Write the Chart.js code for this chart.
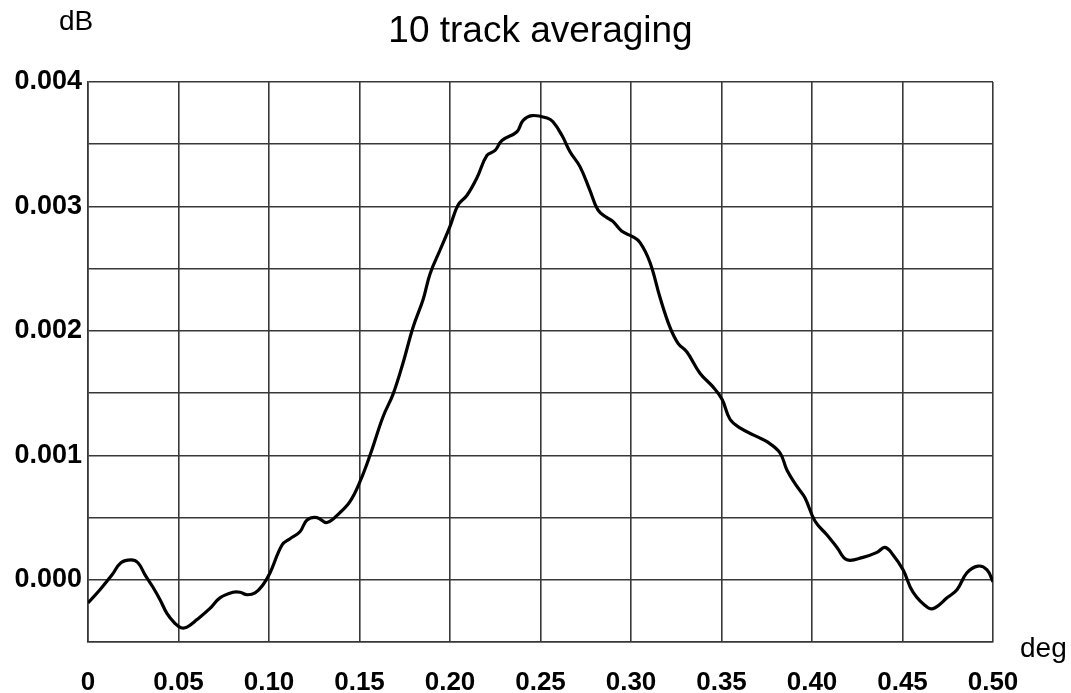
<!DOCTYPE html>
<html>
<head>
<meta charset="utf-8">
<style>
  html, body { margin: 0; padding: 0; background: #fff; }
  #wrap { width: 1071px; height: 693px; }
</style>
<script src="https://cdn.jsdelivr.net/npm/chart.js@4/dist/chart.umd.min.js"></script>
</head>
<body>
<div id="wrap"><canvas id="c" width="1071" height="693"></canvas></div>
<script>
// Averaged response over 10 tracks, in dB, versus angle in degrees
const angleDeg = [
  0, 0.0066, 0.0133, 0.0182, 0.0238, 0.0276, 0.0315, 0.0359, 0.0398, 0.0436,
  0.048, 0.0514, 0.0547, 0.0602, 0.0674, 0.0729, 0.0801, 0.084, 0.0878, 0.0923,
  0.0967, 0.1006, 0.1072, 0.1116, 0.1171, 0.121, 0.1265, 0.132, 0.1392, 0.1448,
  0.1503, 0.1558, 0.163, 0.1685, 0.174, 0.1796, 0.1851, 0.189, 0.1945, 0.2,
  0.2044, 0.2094, 0.2149, 0.2204, 0.2249, 0.2287, 0.237, 0.2403, 0.2453, 0.2536,
  0.2569, 0.2619, 0.2663, 0.2718, 0.2773, 0.2818, 0.2867, 0.29, 0.295, 0.3006,
  0.305, 0.3105, 0.316, 0.3215, 0.326, 0.3309, 0.3381, 0.3453, 0.3503, 0.3547,
  0.3602, 0.3696, 0.3751, 0.3823, 0.3862, 0.3917, 0.3961, 0.4017, 0.4083, 0.4138,
  0.4193, 0.4282, 0.4359, 0.4403, 0.4448, 0.4503, 0.4558, 0.4641, 0.468, 0.4746,
  0.4801, 0.4856, 0.4917, 0.4967, 0.5
];
const levelDb = [
  -0.000185, -0.00008, 0.00004, 0.000137, 0.00016, 0.000137, 0.00004, -0.00006, -0.00016, -0.00027,
  -0.00035, -0.000385, -0.00038, -0.00032, -0.00023, -0.000145, -0.0001, -0.0001, -0.00012, -0.000105,
  -0.00004, 0.000056, 0.00028, 0.00033, 0.000386, 0.00048, 0.0005, 0.00046, 0.00054, 0.00063,
  0.00079, 0.001, 0.00131, 0.00149, 0.00174, 0.00203, 0.00225, 0.00246, 0.00265, 0.00284,
  0.00301, 0.00309, 0.00323, 0.00341, 0.00345, 0.00353, 0.0036, 0.00369, 0.00373, 0.00371,
  0.00368, 0.00357, 0.00344, 0.00332, 0.00313, 0.00297, 0.00291, 0.00288, 0.0028, 0.00276,
  0.00271, 0.00255, 0.00227, 0.00203, 0.0019, 0.00183, 0.00166, 0.00155, 0.00145, 0.00129,
  0.00122, 0.00115, 0.00111, 0.00102, 0.00088, 0.00075, 0.00066, 0.00047, 0.00036, 0.00026,
  0.00016, 0.00018, 0.00022, 0.00026, 0.0002, 0.00008, -0.0001, -0.000225, -0.000225, -0.000145,
  -0.00008, 0.000056, 0.00011, 0.00008, -0.000016
];

const xTickValues = [0, 0.05, 0.10, 0.15, 0.20, 0.25, 0.30, 0.35, 0.40, 0.45, 0.50];
const xTickLabels = ['0', '0.05', '0.10', '0.15', '0.20', '0.25', '0.30', '0.35', '0.40', '0.45', '0.50'];
const yTickValues = [-0.0005, 0, 0.0005, 0.001, 0.0015, 0.002, 0.0025, 0.003, 0.0035, 0.004];
const yTickLabels = ['', '0.000', '', '0.001', '', '0.002', '', '0.003', '', '0.004'];

const titleText = '10 track averaging';
const yUnit = 'dB';
const xUnit = 'deg';

const FONT = '"Liberation Sans", Arial, sans-serif';
const GRID = '#383838';

const points = angleDeg.map((x, i) => ({ x, y: levelDb[i] }));

// Title and axis unit captions
const captions = {
  id: 'captions',
  afterDraw(chart) {
    const { ctx, chartArea } = chart;
    ctx.save();
    ctx.fillStyle = '#000';
    ctx.textBaseline = 'alphabetic';
    ctx.font = '37px ' + FONT;
    ctx.textAlign = 'center';
    ctx.fillText(titleText, (chartArea.left + chartArea.right) / 2, 42);
    ctx.font = '28px ' + FONT;
    ctx.fillText(yUnit, 76, 30);
    ctx.textAlign = 'left';
    ctx.fillText(xUnit, 1020, 657);
    ctx.restore();
  }
};

new Chart(document.getElementById('c'), {
  type: 'line',
  data: {
    datasets: [{
      data: points,
      borderColor: '#000',
      borderWidth: 3.2,
      pointRadius: 0,
      tension: 0.4,
      fill: false
    }]
  },
  options: {
    responsive: false,
    animation: false,
    events: [],
    layout: { padding: { top: 82, right: 78, left: 0, bottom: 0 } },
    plugins: { legend: { display: false }, title: { display: false }, tooltip: { enabled: false } },
    scales: {
      x: {
        type: 'linear',
        min: 0,
        max: 0.5,
        afterBuildTicks(scale) { scale.ticks = xTickValues.map(v => ({ value: v })); },
        afterFit(scale) { scale.height = 51; },
        grid: { color: GRID, lineWidth: 1.6, drawTicks: false },
        border: { color: GRID, width: 1.6 },
        ticks: {
          autoSkip: false,
          maxRotation: 0,
          padding: 25,
          color: '#000',
          font: { family: FONT, size: 26, weight: 'bold' },
          callback: (v, i) => xTickLabels[i]
        }
      },
      y: {
        type: 'linear',
        min: -0.0005,
        max: 0.004,
        afterBuildTicks(scale) { scale.ticks = yTickValues.map(v => ({ value: v })); },
        afterFit(scale) { scale.width = 88; },
        grid: { color: GRID, lineWidth: 1.6, drawTicks: false },
        border: { color: GRID, width: 1.6 },
        ticks: {
          autoSkip: false,
          padding: 6,
          color: '#000',
          font: { family: FONT, size: 27, weight: 'bold' },
          callback: (v, i) => yTickLabels[i]
        }
      }
    }
  },
  plugins: [captions]
});
</script>
</body>
</html>
